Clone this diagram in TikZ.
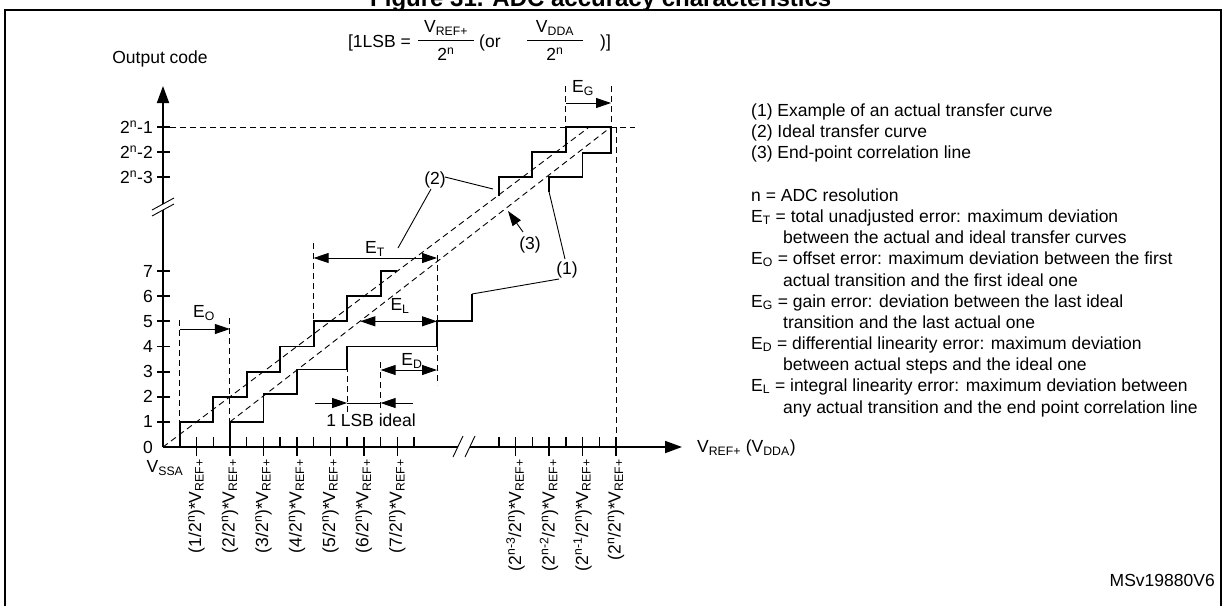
\documentclass[tikz,border=0pt]{standalone}
\usepackage{fontspec}
\setmainfont{Liberation Sans}
\usetikzlibrary{arrows.meta}
\begin{document}
\begin{tikzpicture}[x=1pt,y=-1pt,
  every node/.style={font=\fontsize{17.5}{21}\selectfont, inner sep=0pt},
  stair/.style={line width=1.8pt},
  axisl/.style={line width=1.8pt},
  dsh/.style={line width=0.9pt, dash pattern=on 6pt off 4pt},
  thinl/.style={line width=0.9pt},
  tipr/.style={thinl, -{Triangle[length=15pt,width=10pt]}},
  tipb/.style={thinl, {Triangle[length=15pt,width=10pt]}-{Triangle[length=15pt,width=10pt]}},
  axtip/.style={axisl, -{Triangle[length=17pt,width=12pt]}},
  lg/.style={anchor=base west},
  vlab/.style={rotate=90, anchor=east},
]
\useasboundingbox (0,0) rectangle (1225,605);
% title and frame
\node[anchor=base west, font=\fontsize{24}{28}\selectfont\bfseries] (title) at (370,6) {Figure 31. ADC accuracy characteristics};
\draw[line width=1.2pt] (5,640) -- (5,10) -- (1221,10) -- (1221,640);

% formula
\node[anchor=east] (lsb) at (411,43) {[1LSB =};
\draw[thinl] (418,40) -- (474,40);
\node (n1) at (446,28) {V\textsubscript{REF+}};
\node (d1) at (446,54) {2\textsuperscript{n}};
\node[anchor=west] (or) at (479,43) {(or};
\draw[thinl] (527,40) -- (583,40);
\node (n2) at (555,28) {V\textsubscript{DDA}};
\node (d2) at (555,54) {2\textsuperscript{n}};
\node[anchor=west] (cl) at (600,43) {)]};

% axes
\node (ocode) at (160,59) {Output code};
\coordinate (O) at (163,447);
\coordinate (ytip) at (163,86);
\coordinate (xtip) at (682,447);
\draw[axisl] (O) -- (163,210);
\draw[axtip] (163,204) -- (ytip);
\draw[thinl] (152,210) -- (174,198);
\draw[thinl] (152,216) -- (174,204);
\draw[axisl] (O) -- (457.8,447);
\draw[axtip] (469.8,447) -- (xtip);
\draw[thinl] (453,457) -- (463,436);
\draw[thinl] (465,457) -- (475,436);

% y ticks and labels
\foreach \k/\y in {1/421.9,2/396.7,3/371.6,4/346.4,5/321.3,6/296.2,7/271.0}{
  \draw[axisl] (157,\y) -- (170,\y);
  \node[anchor=east] at (153,\y) {\k};
}
\node[anchor=east] (y0) at (153,447) {0};
\foreach \t/\y in {1/127,2/152,3/177}{
  \draw[axisl] (157,\y) -- (170,\y);
  \node[anchor=east] at (153,\y) {2\textsuperscript{n}-\t};
}

% x ticks
\foreach \x in {179.7,213.2,246.7,280.1,313.6,347.1,380.6,414.0,498.9,532.3,565.8,599.3}{
  \draw[thinl,line width=1.4pt] (\x,437) -- (\x,447);
}
\foreach \x in {196.5,229.9,263.4,296.9,330.4,363.8,397.3,515.6,549.1,582.5,616}{
  \draw[thinl,line width=1.4pt] (\x,437) -- (\x,456);
}
% x labels
\node (vssa) at (165,468) {V\textsubscript{SSA}};
\foreach \i/\x in {1/196.5,2/229.9,3/263.4,4/296.9,5/330.4,6/363.8,7/397.3}{
  \node[vlab] at (\x,459) {(\i/2\textsuperscript{n})*V\textsubscript{REF+}};
}
\node[vlab] at (515.6,459) {(2\textsuperscript{n-3}/2\textsuperscript{n})*V\textsubscript{REF+}};
\node[vlab] at (549.1,459) {(2\textsuperscript{n-2}/2\textsuperscript{n})*V\textsubscript{REF+}};
\node[vlab] at (582.5,459) {(2\textsuperscript{n-1}/2\textsuperscript{n})*V\textsubscript{REF+}};
\node[vlab] at (616,459) {(2\textsuperscript{n}/2\textsuperscript{n})*V\textsubscript{REF+}};
\node[anchor=west] (xlab) at (697,448) {V\textsubscript{REF+} (V\textsubscript{DDA})};

% dashed reference lines
\draw[dsh] (170,127) -- (635,127);
\draw[dsh] (616,127) -- (616,447);
\draw[dsh] (O) -- (588,128);
\draw[dsh] (229.9,421.9) -- (611,127);

% ideal staircase (lower)
\draw[stair] (179.7,447) -- (179.7,421.9) -- (213.2,421.9) -- (213.2,396.7) -- (246.7,396.7) -- (246.7,371.6) -- (280.1,371.6) -- (280.1,346.4) -- (313.6,346.4) -- (313.6,321.3) -- (347.1,321.3) -- (347.1,296.2) -- (380.6,296.2) -- (380.6,271.0) -- (397.3,271.0);
% actual staircase (lower)
\draw[stair] (229.9,447) -- (229.9,421.9) -- (263.4,421.9) -- (263.4,394) -- (296.9,394) -- (296.9,369.5) -- (347.1,369.5) -- (347.1,346.4) -- (437,346.4) -- (437,321.3) -- (472,321.3) -- (472,294);
% upper staircases
\draw[stair] (498.9,196) -- (498.9,177) -- (532.3,177) -- (532.3,152) -- (565.8,152) -- (565.8,127) -- (611,127);
\draw[stair] (549.1,192) -- (549.1,177) -- (582.5,177) -- (582.5,153) -- (611,153) -- (611,127);

% labels (1) (2) (3)
\node (c1) at (567,270) {(1)};
\draw[thinl] (472,294) -- (559,279);
\draw[thinl] (565,259) -- (549.1,192);
\node (c2) at (435,180) {(2)};
\draw[thinl] (445,177) -- (493,189);
\draw[thinl] (431,189) -- (398,248);
\node (c3) at (530,245) {(3)};
\draw[thinl, -{Triangle[length=15pt,width=10pt]}] (523,232) -- (508,211);

% E_O
\draw[dsh] (179.7,320) -- (179.7,447);
\draw[dsh] (229.9,318) -- (229.9,447);
\draw[tipr] (179.7,329) -- (229.9,329);
\node (eo) at (204,313) {E\textsubscript{O}};
% E_T
\draw[dsh] (313.6,243) -- (313.6,321.3);
\draw[dsh] (437,255) -- (437,385);
\draw[tipb] (313.6,258) -- (437,258);
\node (et) at (375,249) {E\textsubscript{T}};
% E_L
\draw[tipb] (360.3,321.3) -- (437,321.3);
\node (el) at (400,306) {E\textsubscript{L}};
% E_D
\draw[dsh] (380.6,362) -- (380.6,412);
\draw[dsh] (347.1,346.4) -- (347.1,412);
\draw[tipb] (380.6,370) -- (437,370);
\node (ed) at (412,361) {E\textsubscript{D}};
% 1 LSB ideal
\draw[tipr] (315,403) -- (347.1,403);
\draw[tipr] (413,403) -- (380.6,403);
\draw[thinl] (347.1,403) -- (380.6,403);
\node (lsbi) at (371,420) {1 LSB ideal};
% E_G
\draw[dsh] (565.8,86) -- (565.8,127);
\draw[dsh] (611,86) -- (611,127);
\draw[tipr] (565.8,103) -- (611,103);
\node (eg) at (583,88) {E\textsubscript{G}};

% legend
\node[lg] (g1) at (751,116) {(1) Example of an actual transfer curve};
\node[lg] (g2) at (751,137) {(2) Ideal transfer curve};
\node[lg] (g3) at (751,158) {(3) End-point correlation line};
\node[lg] (g4) at (751,201) {n = ADC resolution};
\node[lg] (g5) at (751,222) {E\textsubscript{T} = total unadjusted error: maximum deviation};
\node[lg] (g6) at (783,243) {between the actual and ideal transfer curves};
\node[lg] (g7) at (751,264) {E\textsubscript{O} = offset error: maximum deviation between the first};
\node[lg] (g8) at (783,286) {actual transition and the first ideal one};
\node[lg] (g9) at (751,307) {E\textsubscript{G} = gain error: deviation between the last ideal};
\node[lg] (g10) at (783,328) {transition and the last actual one};
\node[lg] (g11) at (751,349) {E\textsubscript{D} = differential linearity error: maximum deviation};
\node[lg] (g12) at (783,370) {between actual steps and the ideal one};
\node[lg] (g13) at (751,391) {E\textsubscript{L} = integral linearity error: maximum deviation between};
\node[lg] (g14) at (783,413) {any actual transition and the end point correlation line};

\node[anchor=east] (ms) at (1215,580) {MSv19880V6};
\end{tikzpicture}
\end{document}
